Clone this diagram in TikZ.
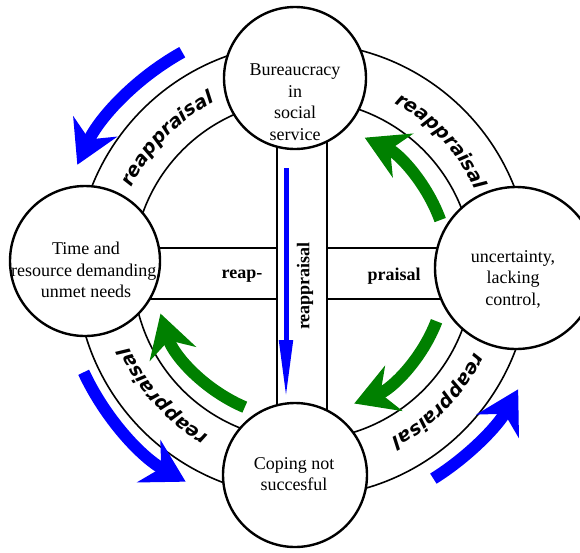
\documentclass[tikz,border=0pt]{standalone}
\usepackage{fontspec}
\setmainfont{Liberation Serif}
\newfontfamily\arcfont{DejaVu Sans}
\usetikzlibrary{arrows.meta,decorations.text,calc}
\definecolor{arrblue}{RGB}{0,0,255}
\definecolor{arrgreen}{RGB}{0,128,0}
\tikzset{
  ringline/.style={line width=1.6pt},
  bigcirc/.style={circle, draw, line width=2.4pt, fill=white, inner sep=0pt},
  circtext/.style={align=center, font=\fontsize{18}{21.5}\selectfont},
  bandtext/.style={font=\bfseries\fontsize{18}{21}\selectfont},
  bluearrow/.style={arrblue, line width=12pt, -{Stealth[length=42pt,width=48pt,inset=14pt]}},
  greenarrow/.style={arrgreen, line width=12pt, -{Stealth[length=42pt,width=48pt,inset=14pt]}},
  arctext/.style={decorate, decoration={text along path, text align=center,
      text={|\arcfont\bfseries\itshape\fontsize{19}{19}\selectfont|reappraisal}}},
}
\begin{document}
\begin{tikzpicture}[x=1pt,y=1pt]
\useasboundingbox (0,0) rectangle (580,-552);
\fill[white] (0,0) rectangle (580,-552);
\clip (0,0) rectangle (580,-552);

\coordinate (C) at (303,-270);

% ring
\draw[ringline] (C) circle[radius=227];
\draw[ringline] (C) circle[radius=170];

% cross bands
\coordinate (vl1) at (277,-120);
\coordinate (vl2) at (277,-430);
\coordinate (vr1) at (327,-120);
\coordinate (vr2) at (327,-430);
\coordinate (ht1) at (60,-248);
\coordinate (ht2) at (277,-248);
\coordinate (hb1) at (60,-299);
\coordinate (hb2) at (277,-299);
\coordinate (ht3) at (327,-248);
\coordinate (ht4) at (480,-248);
\coordinate (hb3) at (327,-299);
\coordinate (hb4) at (480,-299);
\draw[ringline] (vl1) -- (vl2);
\draw[ringline] (vr1) -- (vr2);
\draw[ringline] (ht1) -- (ht2);
\draw[ringline] (hb1) -- (hb2);
\draw[ringline] (ht3) -- (ht4);
\draw[ringline] (hb3) -- (hb4);

% circles
\node[bigcirc, minimum size=142pt] (top) at (295,-78) {};
\node[bigcirc, minimum size=150pt] (left) at (85,-261) {};
\node[bigcirc, minimum size=162pt] (right) at (516,-268) {};
\node[bigcirc, minimum size=144pt] (bottom) at (295,-475) {};

\node[circtext] (toptext) at (295,-102) {Bureaucracy\\in\\social\\service};
\node[circtext] (lefttext) at (86,-270) {Time and\\resource demanding,\\unmet needs};
\node[circtext] (righttext) at (513,-279) {uncertainty,\\lacking\\control,};
\node[circtext] (bottomtext) at (294,-474) {Coping not\\succesful};

% band texts
\node[bandtext] (reap) at (242,-276) {reap-};
\node[bandtext] (praisal) at (394,-276) {praisal};
\node[bandtext, rotate=90] (vtext) at (305,-286) {reappraisal};

% vertical blue arrow
\coordinate (va) at (286,-168);
\coordinate (vb) at (286,-398);
\draw[arrblue, line width=5pt, -{Triangle[length=58pt,width=13pt]}] (va) -- (vb);

% arc texts
\path[arctext] ($(C)+(160:190)$) arc[start angle=160, end angle=112, radius=190];
\path[arctext] ($(C)+(67:190)$) arc[start angle=67, end angle=19, radius=190];
\path[arctext] ($(C)+(246:190)$) arc[start angle=246, end angle=198, radius=190];
\path[arctext] ($(C)+(-20:190)$) arc[start angle=-20, end angle=-68, radius=190];

% blue outer arrows
\draw[bluearrow] ($(C)+(119:249)$) arc[start angle=119, end angle=155, radius=249];
\draw[bluearrow] ($(C)+(205:242)$) arc[start angle=205, end angle=241, radius=242];
\draw[bluearrow] ($(C)+(-58:246)$) arc[start angle=-58, end angle=-29, radius=246];

% green inner arrows
\draw[greenarrow] ($(C)+(20:146)$) arc[start angle=20, end angle=65, radius=146];
\draw[greenarrow] ($(C)+(-21:143)$) arc[start angle=-21, end angle=-69, radius=143];
\draw[greenarrow] ($(C)+(247:149)$) arc[start angle=247, end angle=197, radius=149];
\end{tikzpicture}
\end{document}
